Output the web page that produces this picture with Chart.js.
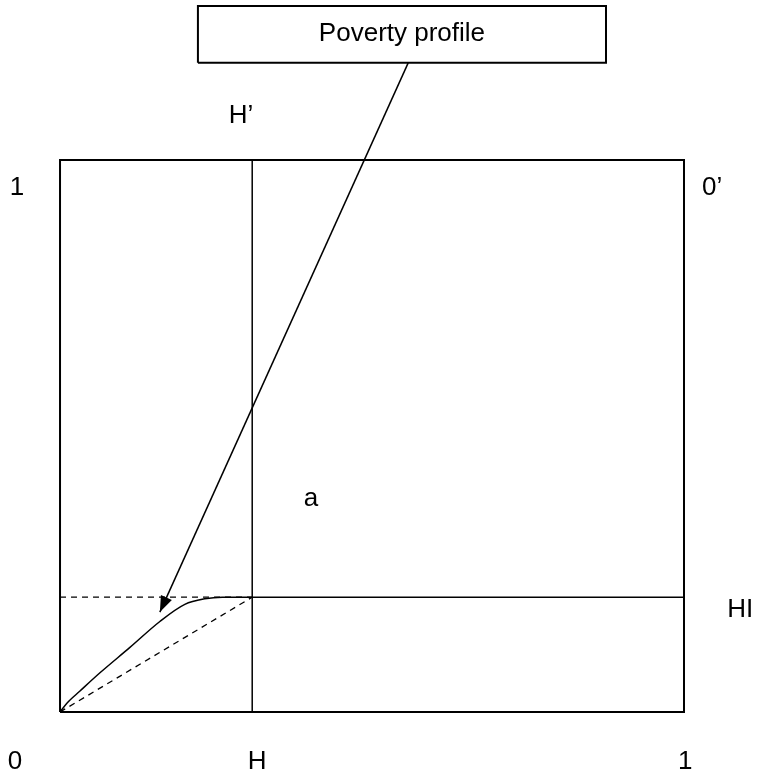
<!DOCTYPE html>
<html>
<head>
  <title>Poverty profile</title>
  <script src="https://cdn.jsdelivr.net/npm/chart.js"></script>
  <style>
    html, body { margin: 0; padding: 0; background: #fff; }
    #wrap { width: 758px; height: 780px; }
  </style>
</head>
<body>
  <div id="wrap"><canvas id="chart"></canvas></div>

  <script>
    // headcount H and poverty height HI, in unit square coordinates
    const H = 0.308;
    const HI = 0.208;

    // poverty profile curve
    const profileX = [0, 0.011, 0.032, 0.064, 0.112, 0.160, 0.200, 0.232, 0.260, 0.308];
    const profileY = [0, 0.016, 0.038, 0.071, 0.117, 0.164, 0.195, 0.205, 0.208, 0.208];

    // callout box and arrow
    const boxX = [0.221, 0.875];
    const boxY = [1.176, 1.279];
    const arrowFrom = { x: 0.558, y: 1.176 };
    const arrowTo = { x: 0.160, y: 0.181 };

    // text labels
    const labels = [
      { text: 'Poverty profile', x: 0.548, y: 1.228 },
      { text: 'H\u2019', x: 0.290, y: 1.080 },
      { text: '1', x: -0.069, y: 0.950 },
      { text: '0\u2019', x: 1.045, y: 0.950 },
      { text: 'a', x: 0.402, y: 0.387 },
      { text: 'HI', x: 1.090, y: 0.185 },
      { text: '0', x: -0.072, y: -0.090 },
      { text: 'H', x: 0.316, y: -0.090 },
      { text: '1', x: 1.002, y: -0.090 }
    ];

    const pts = (xs, ys) => xs.map((x, i) => ({ x: x, y: ys[i] }));

    function line(data, dashed, width) {
      return {
        data: data,
        borderColor: '#000',
        borderWidth: width || (dashed ? 1.3 : 1.5),
        borderDash: dashed ? [6, 5] : [],
        pointRadius: 0,
        fill: false,
        tension: 0
      };
    }

    const labelPlugin = {
      id: 'labels',
      afterDatasetsDraw(chart) {
        const c = chart.ctx;
        const xs = chart.scales.x, ys = chart.scales.y;
        c.save();
        // arrow head
        const x1 = xs.getPixelForValue(arrowFrom.x), y1 = ys.getPixelForValue(arrowFrom.y);
        const x2 = xs.getPixelForValue(arrowTo.x), y2 = ys.getPixelForValue(arrowTo.y);
        const ang = Math.atan2(y2 - y1, x2 - x1);
        const len = 17, half = 0.36;
        c.fillStyle = '#000';
        c.beginPath();
        c.moveTo(x2, y2);
        c.lineTo(x2 - len * Math.cos(ang - half), y2 - len * Math.sin(ang - half));
        c.lineTo(x2 - len * Math.cos(ang + half), y2 - len * Math.sin(ang + half));
        c.closePath();
        c.fill();
        // texts
        c.font = '26px "Liberation Sans", Arial, sans-serif';
        c.textAlign = 'center';
        c.textBaseline = 'middle';
        labels.forEach(l => {
          c.fillText(l.text, xs.getPixelForValue(l.x), ys.getPixelForValue(l.y));
        });
        c.restore();
      }
    };

    const profile = line(pts(profileX, profileY), false);
    profile.cubicInterpolationMode = 'monotone';

    new Chart(document.getElementById('chart'), {
      type: 'line',
      data: {
        datasets: [
          // unit square
          line(pts([0, 1, 1, 0, 0], [0, 0, 1, 1, 0]), false, 2),
          // H vertical
          line(pts([H, H], [0, 1]), false),
          // HI horizontal, solid part
          line(pts([H, 1], [HI, HI]), false),
          // HI horizontal, dashed part
          line(pts([0, H], [HI, HI]), true),
          // diagonal from origin to (H, HI)
          line(pts([0, H], [0, HI]), true),
          // poverty profile
          profile,
          // callout box
          line(pts([boxX[0], boxX[1], boxX[1], boxX[0], boxX[0]], [boxY[0], boxY[0], boxY[1], boxY[1], boxY[0]]), false, 2),
          // arrow shaft
          line([arrowFrom, arrowTo], false)
        ]
      },
      options: {
        responsive: true,
        maintainAspectRatio: false,
        animation: false,
        layout: { padding: 0 },
        plugins: { legend: { display: false }, tooltip: { enabled: false } },
        scales: {
          x: { type: 'linear', display: false, min: -0.0962, max: 1.1186 },
          y: { type: 'linear', display: false, min: -0.1232, max: 1.2899 }
        }
      },
      plugins: [labelPlugin]
    });
  </script>
</body>
</html>
